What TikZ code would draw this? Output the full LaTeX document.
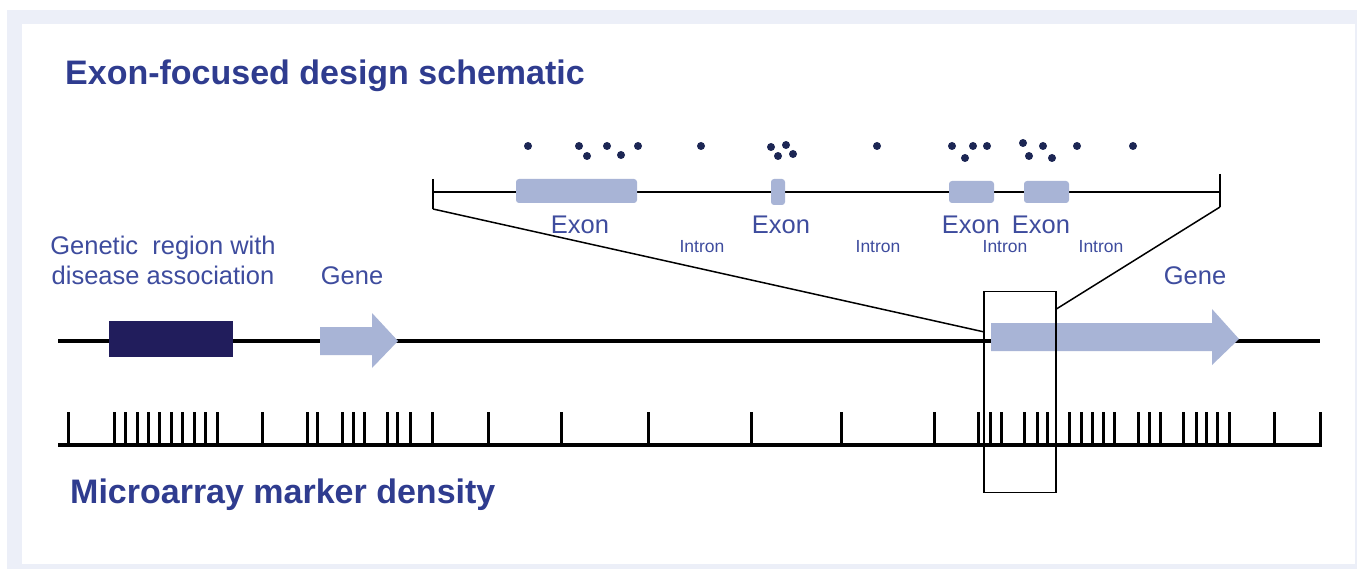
\documentclass[tikz,border=0pt]{standalone}
\usepackage{fontspec}
\setmainfont{Liberation Sans}
\definecolor{band}{HTML}{ECEFF8}
\definecolor{headblue}{HTML}{2F3C8F}
\definecolor{labblue}{HTML}{3E4C9E}
\definecolor{exonblue}{HTML}{A8B4D6}
\definecolor{darkbox}{HTML}{211D5C}
\definecolor{dotblue}{HTML}{1C2654}
\begin{document}
\begin{tikzpicture}[x=1pt,y=-1pt,
  heading/.style={inner sep=0pt,anchor=base west,text=headblue,font=\fontsize{34}{38}\selectfont\bfseries},
  label/.style={inner sep=0pt,anchor=base,text=labblue,font=\fontsize{25.5}{30}\selectfont},
  intronlab/.style={inner sep=0pt,anchor=base,text=labblue,font=\fontsize{17.5}{20}\selectfont},
  exonbox/.style={fill=exonblue,draw=none,rounded corners=3pt},
  backbone/.style={line width=3.4pt,black},
  thin/.style={line width=1.5pt,black},
  tick/.style={line width=3pt,black},
  dot/.style={circle,fill=dotblue,inner sep=0pt,minimum size=8pt}]
% frame
\useasboundingbox (0,0) rectangle (1357,569);
\fill[band] (7,10) rectangle (1357,569);
\fill[white] (22,24) rectangle (1355,564);

% headings
\node[heading] (title) at (65,85) {Exon-focused design schematic};
\node[heading] (micro) at (70,503) {Microarray marker density};

% main backbone
\coordinate (bbL) at (58,341);
\coordinate (bbR) at (1320,341);
\draw[backbone] (bbL) -- (bbR);

% disease region box
\node[fill=darkbox,draw=none,minimum width=124pt,minimum height=36pt,inner sep=0pt] (region) at (171,339) {};
\node[label,align=center] (regionlab) at (163,284) {Genetic\ \ region with\\[-1pt]disease association};

% small gene arrow
\fill[exonblue] (320,327) -- (372,327) -- (372,313) -- (398,341) -- (372,368) -- (372,355) -- (320,355) -- cycle;
\node[label] (geneAlab) at (352,284) {Gene};

% large gene arrow
\fill[exonblue] (991,323) -- (1212,323) -- (1212,309) -- (1239,339) -- (1212,365) -- (1212,351) -- (991,351) -- cycle;
\node[label] (geneBlab) at (1195,284) {Gene};

% zoom box
\node[thin,draw,minimum width=72pt,minimum height=201pt,inner sep=0pt] (zbox) at (1020,392) {};

% zoomed gene structure
\coordinate (zL) at (433,192);
\coordinate (zR) at (1220,192);
\coordinate (zLt) at (433,179);
\coordinate (zLb) at (433,209);
\coordinate (zRt) at (1220,174);
\coordinate (zRb) at (1220,207);
\draw[thin] (zL) -- (zR);
\draw[thin] (zLt) -- (zLb);
\draw[thin] (zRt) -- (zRb);
\draw[thin] (zLb) -- ([yshift=-41pt]zbox.north west);
\draw[thin] (zRb) -- ([yshift=-18pt]zbox.north east);

\fill[exonbox] (516,179) rectangle (637,203);
\fill[exonbox] (771,179) rectangle (785,205);
\fill[exonbox] (949,181) rectangle (994,203);
\fill[exonbox] (1024,181) rectangle (1069,203);

\node[label] (ex1) at (580,234) {Exon};
\node[label] (ex2) at (781,234) {Exon};
\node[label] (ex3) at (971,234) {Exon};
\node[label] (ex4) at (1041,234) {Exon};
\node[intronlab] (in1) at (702,253) {Intron};
\node[intronlab] (in2) at (878,253) {Intron};
\node[intronlab] (in3) at (1005,253) {Intron};
\node[intronlab] (in4) at (1101,253) {Intron};

% probes
\foreach \x/\y [count=\i] in {528/146,579/146,587/156,607/146,621/155,638/146,701/146,771/147,786/145,778/156,793/154,877/146,952/146,965/158,973/146,987/146,1023/143,1029/156,1043/146,1052/158,1077/146,1133/146}
  \node[dot] (p\i) at (\x,\y) {};

% marker density
\coordinate (mL) at (58,445);
\coordinate (mR) at (1322,445);
\draw[backbone] (mL) -- (mR);
\foreach \x in {68,114,125,137,148,159,171,182,194,205,217,262,307,317,342,353,364,387,397,410,432,488,561,648,751,841,934,978,990,1001,1024,1037,1047,1069,1081,1092,1103,1114,1138,1149,1160,1183,1196,1206,1217,1229,1274,1320}
  \draw[tick] (\x,412) -- (\x,445);
\end{tikzpicture}
\end{document}
